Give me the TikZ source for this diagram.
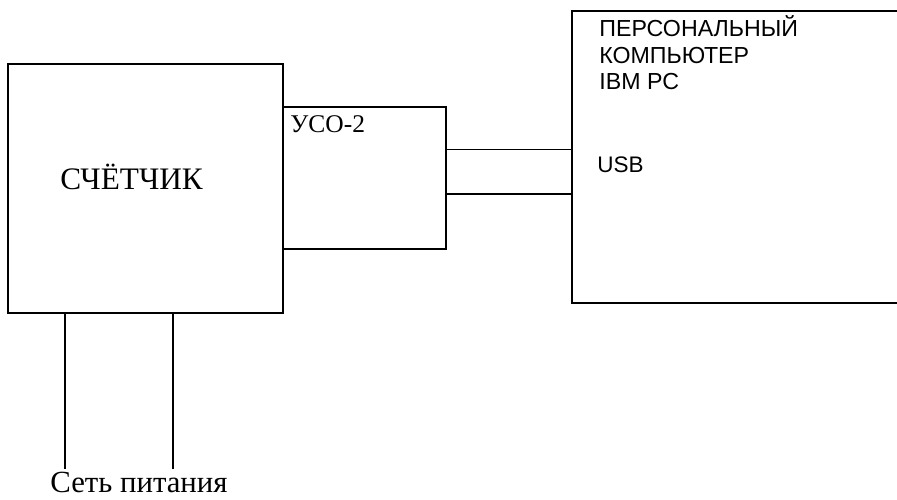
\documentclass[tikz,border=0pt]{standalone}
\usepackage{fontspec}
\setmainfont{Liberation Serif}
\newfontfamily\pcfont{Liberation Sans}
\usetikzlibrary{positioning,calc}

\begin{document}
\begin{tikzpicture}[
    block/.style={draw=black, line width=0.8pt, inner sep=0pt},
    wire/.style={line width=0.8pt},
    lbl/.style={inner sep=0pt, anchor=base west}
]
\clip (0,0) rectangle (17.94,-10);

\node[block, minimum width=5.5cm, minimum height=4.98cm] (counter) at (2.91,-3.77) {};
\node[block, minimum width=3.26cm, minimum height=2.84cm] (uso) at (7.29,-3.56) {};
\node[block, minimum width=7.56cm, minimum height=5.84cm] (pc) at (15.22,-3.14) {};
\node[inner xsep=0pt, inner ysep=2pt, anchor=base] (mains) at (2.78,-9.86)
    {\fontsize{17.5}{20}\selectfont Сеть питания};

\node[lbl] (counterlbl) at (1.2,-3.8) {\fontsize{17.8}{20}\selectfont СЧЁТЧИК};
\node[lbl] (usolbl) at (5.8,-2.66) {\fontsize{14.5}{16}\selectfont УСО-2};
\node[lbl, align=left, font=\pcfont\fontsize{13.2}{15.3}\selectfont] (pclbl) at (11.98,-1.8)
    {ПЕРСОНАЛЬНЫЙ\\КОМПЬЮТЕР\\IBM PC};
\node[lbl, font=\pcfont\fontsize{12.8}{15}\selectfont] (usblbl) at (11.94,-3.46) {USB};

% USB pair
\coordinate (usba) at ($(uso.north east)!0.303!(uso.south east)$);
\coordinate (usbb) at ($(uso.north east)!0.613!(uso.south east)$);
\foreach \p in {usba,usbb}
    \draw[wire] (\p) -- (\p -| pc.west);

% mains pair
\foreach \x in {1.3,3.46}
    \draw[wire] (counter.south -| \x,0) -- (\x,0 |- mains.north);
\end{tikzpicture}
\end{document}
